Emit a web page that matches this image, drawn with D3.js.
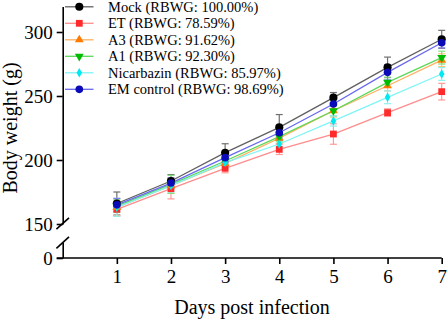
<!DOCTYPE html>
<html>
<head>
<meta charset="utf-8">
<script src="https://cdn.jsdelivr.net/npm/d3@7"></script>
<style>
  body { margin: 0; background: #fff; }
  svg text { font-family: "Liberation Serif", "Times New Roman", serif; }
</style>
</head>
<body>
<svg id="chart" width="447" height="319"></svg>
<script>
// values
const days = [1, 2, 3, 4, 5, 6, 7];
const mock = [166, 183.6, 205.7, 225.5, 248.7, 272.4, 294.3];
const mockSd = [9, 5, 7, 10, 4, 8, 7];
const et = [161.5, 177.6, 193.5, 208.3, 220.3, 237, 253.4];
const etSd = [5, 8, 3.5, 4, 8, 3, 6.5];
const a3 = [163, 180, 197.4, 217, 238.5, 258, 278];
const a3Sd = [7, 6, 4, 4, 5, 4, 5];
const a1 = [164, 181, 199.2, 218.2, 238.5, 260.7, 280];
const a1Sd = [5, 7, 3, 4, 4, 4, 5];
const nic = [163, 180, 198, 212.5, 230.5, 249, 267.2];
const nicSd = [7, 5, 4, 4, 4, 5, 5];
const em = [165, 182, 201.8, 221.3, 243.75, 268.5, 291.6];
const emSd = [5, 4, 4, 4, 4, 6, 4];

const names = ["Mock (RBWG: 100.00%)", "ET (RBWG: 78.59%)", "A3 (RBWG: 91.62%)",
  "A1 (RBWG: 92.30%)", "Nicarbazin (RBWG: 85.97%)", "EM control (RBWG: 98.69%)"];
const yTicksTop = [150, 200, 250, 300];
const yTicksBottom = [0];

const series = [
  { name: names[0], v: mock, sd: mockSd, line: "#606060", fill: "#000000", err: "#707070", shape: d3.symbolCircle, size: 52 },
  { name: names[1], v: et, sd: etSd, line: "#ff8c8c", fill: "#ff2a2a", err: "#ff9a9a", shape: d3.symbolSquare, size: 46 },
  { name: names[2], v: a3, sd: a3Sd, line: "#ffb060", fill: "#ff7a00", err: "#ffc080", shape: d3.symbolTriangle, size: 34 },
  { name: names[3], v: a1, sd: a1Sd, line: "#5ad85a", fill: "#00bb00", err: "#80e080", shape: d3.symbolTriangle, size: 34, flip: true },
  { name: names[4], v: nic, sd: nicSd, line: "#7ff5f5", fill: "#00e8f0", err: "#90f0f0", shape: d3.symbolDiamond, size: 26 },
  { name: names[5], v: em, sd: emSd, line: "#6868f0", fill: "#0a0ab8", err: "#8080f0", shape: d3.symbolCircle, size: 46 }
];

const svg = d3.select("#chart");
const axisX = 62.7;

const x = d3.scaleLinear().domain([0, 7]).range([axisX, 441.7]);
const yTop = d3.scaleLinear().domain([150, 320]).range([224, 6.4]);
const yBot = d3.scaleLinear().domain([0, 12]).range([258, 242.6]);

// axes
const yAxisTop = svg.append("g")
  .attr("transform", "translate(" + axisX + ",0)")
  .call(d3.axisLeft(yTop).tickValues(yTicksTop).tickSize(6).tickSizeOuter(0).tickPadding(4));
const yAxisBot = svg.append("g")
  .attr("transform", "translate(" + axisX + ",0)")
  .call(d3.axisLeft(yBot).tickValues(yTicksBottom).tickSize(6).tickSizeOuter(0).tickPadding(4));
const xAxis = svg.append("g")
  .attr("transform", "translate(0," + yBot(0) + ")")
  .call(d3.axisBottom(x).tickValues(days).tickFormat(d3.format("d"))
    .tickSize(6).tickSizeOuter(0).tickPadding(6));

[yAxisTop, yAxisBot, xAxis].forEach(g => {
  g.attr("font-family", null);
  g.selectAll("path, line").attr("stroke", "#000").attr("stroke-width", 1.6);
  g.selectAll("text")
    .style("font-size", "19px")
    .attr("fill", "#000");
});
xAxis.select("path").attr("d", "M" + (axisX - 6) + ",0H" + x(7));

// break marks
[yTop(150) - 0.5, yBot(12)].forEach(cy => {
  svg.append("line")
    .attr("x1", axisX - 6.3).attr("y1", cy + 5.7)
    .attr("x2", axisX + 6.3).attr("y2", cy - 5.7)
    .attr("stroke", "#000").attr("stroke-width", 1.6);
});

// lines
const line = d3.line().x((d, i) => x(days[i])).y(d => yTop(d));
series.forEach(s => {
  svg.append("path")
    .datum(s.v)
    .attr("d", line)
    .attr("fill", "none")
    .attr("stroke", s.line)
    .attr("stroke-width", 1.3);
});

// error bars
series.forEach(s => {
  const g = svg.append("g").attr("stroke", s.err).attr("stroke-width", 1.2);
  s.v.forEach((v, i) => {
    const cx = x(days[i]);
    const t = yTop(v + s.sd[i]), b = yTop(v - s.sd[i]);
    g.append("line").attr("x1", cx).attr("x2", cx).attr("y1", t).attr("y2", b);
    g.append("line").attr("x1", cx - 3.5).attr("x2", cx + 3.5).attr("y1", t).attr("y2", t);
    g.append("line").attr("x1", cx - 3.5).attr("x2", cx + 3.5).attr("y1", b).attr("y2", b);
  });
});

// markers
function marker(g, s, cx, cy) {
  g.append("path")
    .attr("d", d3.symbol().type(s.shape).size(s.size)())
    .attr("transform", "translate(" + cx + "," + cy + ")" + (s.flip ? " rotate(180)" : ""))
    .attr("fill", s.fill);
}
series.forEach(s => {
  const g = svg.append("g");
  s.v.forEach((v, i) => marker(g, s, x(days[i]), yTop(v)));
});

// legend
const legend = svg.append("g");
series.forEach((s, i) => {
  const cy = 6.8 + i * 16.5;
  legend.append("line")
    .attr("x1", 65).attr("x2", 93.5).attr("y1", cy).attr("y2", cy)
    .attr("stroke", s.line).attr("stroke-width", 1.3);
  marker(legend, s, 79.3, cy);
  legend.append("text")
    .attr("x", 108).attr("y", cy)
    .attr("dy", "0.35em")
    .style("font-size", "14.5px")
    .attr("fill", "#000")
    .text(s.name);
});

// axis titles
svg.append("text")
  .attr("x", 252).attr("y", 314)
  .attr("text-anchor", "middle")
  .style("font-size", "20px")
  .text("Days post infection");

svg.append("text")
  .attr("transform", "translate(17,128) rotate(-90)")
  .attr("text-anchor", "middle")
  .style("font-size", "20px")
  .text("Body weight (g)");
</script>
</body>
</html>
